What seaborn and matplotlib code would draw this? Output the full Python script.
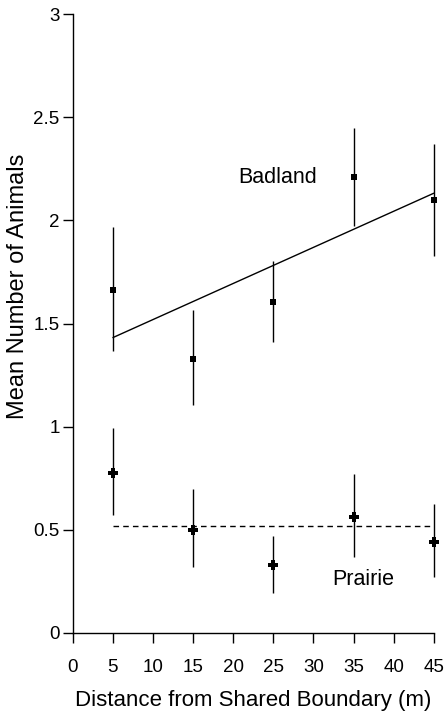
import numpy as np
import pandas as pd
import matplotlib
matplotlib.use("Agg")
import matplotlib.pyplot as plt
import seaborn as sns

# --- DATA ---
distance = [5, 15, 25, 35, 45]

badland_mean = [1.665, 1.33, 1.606, 2.21, 2.10]
badland_low = [1.365, 1.106, 1.41, 1.974, 1.83]
badland_high = [1.97, 1.566, 1.803, 2.45, 2.37]

prairie_mean = [0.775, 0.50, 0.33, 0.56, 0.44]
prairie_low = [0.572, 0.32, 0.196, 0.37, 0.27]
prairie_high = [0.994, 0.70, 0.47, 0.77, 0.625]

x_ticks = [0, 5, 10, 15, 20, 25, 30, 35, 40, 45]
y_ticks = [0, 0.5, 1, 1.5, 2, 2.5, 3]
y_tick_labels = ["0", "0.5", "1", "1.5", "2", "2.5", "3"]

sns.set_style("ticks")
plt.rcParams['font.family'] = ['Liberation Sans', 'DejaVu Sans']
plt.rcParams['text.color'] = 'black'
plt.rcParams['axes.labelcolor'] = 'black'
plt.rcParams['xtick.color'] = 'black'
plt.rcParams['ytick.color'] = 'black'

fig = plt.figure(figsize=(4.44, 7.12), dpi=100)
ax = fig.add_axes([0.164, 0.111, 0.813, 0.869])

bad = pd.DataFrame({'Distance': distance, 'Mean': badland_mean})
pra = pd.DataFrame({'Distance': distance, 'Mean': prairie_mean})

# badland: points, error bars and fitted line
ax.errorbar(distance, badland_mean,
            yerr=[np.subtract(badland_mean, badland_low), np.subtract(badland_high, badland_mean)],
            fmt='none', ecolor='black', elinewidth=1, capsize=0, clip_on=False)
sns.scatterplot(data=bad, x='Distance', y='Mean', marker='s', s=14, color='black',
                edgecolor='black', linewidth=0, ax=ax, zorder=3, clip_on=False)
sns.regplot(data=bad, x='Distance', y='Mean', ci=None, scatter=False, truncate=True,
            line_kws={'color': 'black', 'linewidth': 1, 'clip_on': False}, ax=ax)

# prairie: points, error bars and mean line
ax.errorbar(distance, prairie_mean,
            yerr=[np.subtract(prairie_mean, prairie_low), np.subtract(prairie_high, prairie_mean)],
            fmt='none', ecolor='black', elinewidth=1, capsize=0, clip_on=False)
sns.scatterplot(data=pra, x='Distance', y='Mean', marker='P', s=45, color='black',
                edgecolor='black', linewidth=0, ax=ax, zorder=3, clip_on=False)
ax.hlines(np.mean(prairie_mean), min(distance), max(distance), colors='black',
          linestyles=(0, (4, 3)), linewidth=1)

ax.text(20.6, 2.21, "Badland", fontsize=15.5, va='center', ha='left')
ax.text(32.3, 0.257, "Prairie", fontsize=15.5, va='center', ha='left')

ax.set_xlim(0, 45)
ax.set_ylim(0, 3)
ax.set_xticks(x_ticks)
ax.set_yticks(y_ticks)
ax.set_yticklabels(y_tick_labels)
ax.tick_params(labelsize=13.5, length=7.5, width=1)
ax.tick_params(axis='x', pad=11)
ax.tick_params(axis='y', pad=2)
ax.set_xlabel("Distance from Shared Boundary (m)", fontsize=16, labelpad=10)
ax.set_ylabel("Mean Number of Animals", fontsize=17, labelpad=3, y=0.56)
for s in ['left', 'bottom']:
    ax.spines[s].set_linewidth(1)
    ax.spines[s].set_color('black')
sns.despine(ax=ax)

fig.savefig("out.png", dpi=100)
